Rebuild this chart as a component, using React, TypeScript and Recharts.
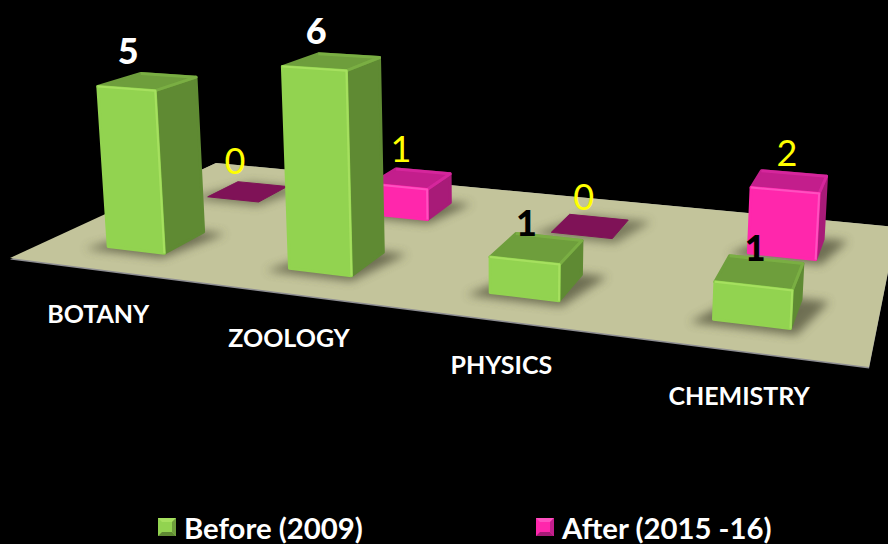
import { Bar, BarChart, Customized, LabelList, Legend, XAxis, YAxis } from "recharts";

const categories = ["BOTANY", "ZOOLOGY", "PHYSICS", "CHEMISTRY"];
const beforeValues = [5, 6, 1, 1];
const afterValues = [0, 1, 0, 2];

const tableData = categories.map((name, i) => ({
  name,
  before: beforeValues[i],
  after: afterValues[i],
}));

const WIDTH = 888;
const HEIGHT = 544;
const FONT = "Lato, Carlito, sans-serif";

// floor plane corners, (u, v) = (0,0) (1,0) (1,1) (0,1)
const [x0, y0] = [10, 258];
const [x1, y1] = [869, 367];
const [x2, y2] = [897, 227];
const [x3, y3] = [216, 163];

// unit square -> quad homography
const dx1 = x1 - x2;
const dx2 = x3 - x2;
const sx = x0 - x1 + x2 - x3;
const dy1 = y1 - y2;
const dy2 = y3 - y2;
const sy = y0 - y1 + y2 - y3;
const det = dx1 * dy2 - dx2 * dy1;
const g = (sx * dy2 - dx2 * sy) / det;
const h = (dx1 * sy - sx * dy1) / det;
const a = x1 - x0 + g * x1;
const b = x3 - x0 + h * x3;
const d = y1 - y0 + g * y1;
const e = y3 - y0 + h * y3;

// bar height (flat chart px) is scaled by depth and leans toward a far vanishing point
const project = (u: number, v: number, flatHeight = 0) => {
  const w = g * u + h * v + 1;
  const px = (a * u + b * v + x0) / w;
  const py = (d * u + e * v + y0) / w;
  const lift = flatHeight / w;
  return { x: px + ((px - 500) * lift) / 6000, y: py - lift };
};

const pts = (list: { x: number; y: number }[]) =>
  list.map((p) => `${p.x.toFixed(1)},${p.y.toFixed(1)}`).join(" ");

interface Skin {
  front: string;
  side: string;
  top: string;
  edge: string;
  ridge: string;
  flat: string;
}

const greenSkin: Skin = { front: "#92d350", side: "#5f8a33", top: "#6e9e3c", edge: "#a6e05f", ridge: "#7fb546", flat: "#6e9e3c" };
const pinkSkin: Skin = { front: "#ff27ac", side: "#a81b78", top: "#c31e8c", edge: "#ff50c0", ridge: "#dd2aa2", flat: "#7f1257" };

const Box3D = ({ x, width, height, v0, v1, skin }: any) => {
  const u0 = x / WIDTH;
  const u1 = (x + width) / WIDTH;
  const shadow = [
    project(u0 - 0.022, v0 - 0.035),
    project(u1 + 0.008, v0 - 0.035),
    project(u1 + 0.03, v1 + 0.005),
    project(u0 + 0.02, v1 + 0.005),
  ];
  const fl = project(u0, v0);
  const fr = project(u1, v0);
  const br = project(u1, v1);
  const bl = project(u0, v1);

  if (!height) {
    return (
      <g>
        <polygon points={pts(shadow)} fill="#4c4c34" opacity={0.6} filter="url(#soft)" />
        <polygon points={pts([fl, fr, br, bl])} fill={skin.flat} stroke={skin.flat} strokeWidth={1} strokeLinejoin="round" />
      </g>
    );
  }

  const tfl = project(u0, v0, height);
  const tfr = project(u1, v0, height);
  const tbr = project(u1, v1, height);
  const tbl = project(u0, v1, height);
  return (
    <g>
      <polygon points={pts(shadow)} fill="#4c4c34" opacity={0.7} filter="url(#soft)" />
      <polygon points={pts([fr, br, tbr, tfr])} fill={skin.side} stroke={skin.side} strokeWidth={3} strokeLinejoin="round" />
      <polygon points={pts([tfl, tfr, tbr, tbl])} fill={skin.top} stroke={skin.top} strokeWidth={3} strokeLinejoin="round" />
      <polyline points={pts([tbl, tbr, tfr])} fill="none" stroke={skin.ridge} strokeWidth={3} strokeLinejoin="round" opacity={0.7} />
      <polygon points={pts([fl, fr, tfr, tfl])} fill={skin.front} stroke={skin.front} strokeWidth={3} strokeLinejoin="round" />
      <polyline points={pts([tfl, tfr, fr])} fill="none" stroke={skin.edge} strokeWidth={2} strokeLinejoin="round" />
    </g>
  );
};

// plane + blur filter, behind the series
const Floor = () => (
  <g>
    <defs>
      <filter id="soft" x="-40%" y="-40%" width="180%" height="180%">
        <feGaussianBlur stdDeviation="5" />
      </filter>
    </defs>
    <polygon points={pts([{ x: x0, y: y0 + 1.5 }, { x: x1, y: y1 + 1.5 }, { x: x2, y: y2 }, { x: x3, y: y3 }])} fill="#8f8f93" />
    <polygon points={pts([{ x: x0, y: y0 }, { x: x1, y: y1 }, { x: x2, y: y2 }, { x: x3, y: y3 }])} fill="#c3c49b" />
  </g>
);

const CategoryTick = ({ x, payload }: any) => {
  const p = project(x / WIDTH, 0);
  return (
    <text x={p.x} y={p.y + 44} textAnchor="middle" dominantBaseline="central" fill="#fff" fontFamily={FONT} fontWeight={700} fontSize={25}>
      {payload.value}
    </text>
  );
};

const valueLabel = (v0: number, series: "before" | "after") => (props: any) => {
  const { value } = props;
  const box = props.viewBox ?? props;
  const top = project((box.x + box.width / 2) / WIDTH, v0, Math.abs(box.height));
  const fill = series === "after" ? "#ffff00" : value > 1 ? "#fff" : "#000";
  return (
    <text x={top.x + 2} y={top.y - 39} textAnchor="middle" dominantBaseline="central" fill={fill} fontFamily={FONT} fontWeight={series === "after" ? 400 : 900} fontSize={36}>
      {value}
    </text>
  );
};

const LegendIcon = ({ skin }: { skin: Skin }) => (
  <svg width={18} height={18} style={{ marginRight: 8, flex: "none" }}>
    <rect width={18} height={18} fill={skin.front} />
    <polygon points="0,0 18,0 14,4 4,4" fill={skin.edge} />
    <polygon points="0,18 18,18 14,14 4,14" fill={skin.side} />
    <polygon points="18,0 18,18 14,14 14,4" fill={skin.top} />
  </svg>
);

const LegendContent = ({ payload }: any) => {
  const items = [...(payload ?? [])].reverse();
  return (
    <div style={{ display: "flex", alignItems: "center", paddingLeft: 158, height: 34 }}>
      {items.map((item: any, i: number) => (
        <div key={item.value} style={{ display: "flex", alignItems: "center", flex: "none", width: 378 }}>
          <LegendIcon skin={i === 0 ? greenSkin : pinkSkin} />
          <span style={{ color: "#fff", fontFamily: FONT, fontWeight: 700, fontSize: 29.3, whiteSpace: "nowrap" }}>{item.value}</span>
        </div>
      ))}
    </div>
  );
};

export default function App() {
  return (
    <div style={{ position: "fixed", left: 0, top: 0, width: WIDTH, height: HEIGHT, background: "#000", overflow: "hidden" }}>
      <BarChart
        width={WIDTH}
        height={HEIGHT}
        data={tableData}
        margin={{ top: 98, right: 0, bottom: 248, left: 0 }}
        barSize={71}
        barGap={-71}
        barCategoryGap={0}
      >
        <Customized component={Floor} />
        <XAxis
          dataKey="name"
          height={1}
          axisLine={false}
          tickLine={false}
          interval={0}
          tick={(p: any) => <CategoryTick {...p} />}
        />
        <YAxis hide domain={[0, 6]} />
        <Legend
          layout="horizontal"
          verticalAlign="middle"
          content={<LegendContent />}
          wrapperStyle={{ position: "absolute", left: 0, top: 510, bottom: "auto", width: WIDTH, height: 34 }}
        />
        {/* back row first so the front row paints over it */}
        <Bar
          dataKey="after"
          name="After (2015 -16)"
          fill={pinkSkin.front}
          isAnimationActive={false}
          shape={(p: any) => <Box3D {...p} v0={0.65} v1={0.825} skin={pinkSkin} />}
        >
          <LabelList dataKey="after" content={valueLabel(0.65, "after")} />
        </Bar>
        <Bar
          dataKey="before"
          name="Before (2009)"
          fill={greenSkin.front}
          isAnimationActive={false}
          shape={(p: any) => <Box3D {...p} v0={0.16} v1={0.35} skin={greenSkin} />}
        >
          <LabelList dataKey="before" content={valueLabel(0.16, "before")} />
        </Bar>
      </BarChart>
    </div>
  );
}
